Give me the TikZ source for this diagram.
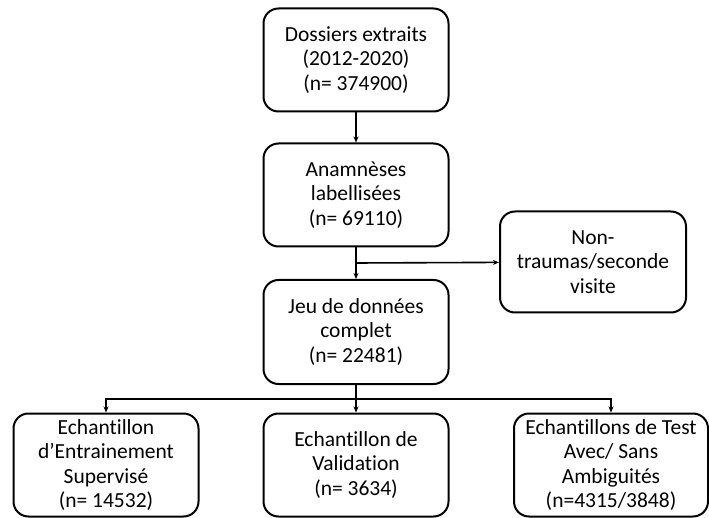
\documentclass[tikz,border=0pt]{standalone}
\usepackage{fontspec}
\setmainfont[Ligatures=NoCommon]{Carlito}
\usetikzlibrary{arrows.meta}
\begin{document}
\begin{tikzpicture}[x=1pt,y=-1pt,
  box/.style={draw=black,line width=2pt,rounded corners=15pt,align=center,
    minimum width=185pt,minimum height=103pt,inner sep=1pt,
    font=\fontsize{21.5}{24.5}\selectfont},
  conn/.style={line width=1.6pt,-{Stealth[length=6pt,width=5pt]}}]
\useasboundingbox (0,0) rectangle (709,518);
\node[box] (b1) at (356,60) {Dossiers extraits\\(2012-2020)\\(n= 374900)};
\node[box] (b2) at (356,195) {Anamnèses\\labellisées\\(n= 69110)};
\node[box,minimum width=186pt,minimum height=101pt] (nt) at (593,262) {Non-\\traumas/seconde\\visite};
\node[box,minimum height=104pt] (b3) at (356,332) {Jeu de données\\complet\\(n= 22481)};
\node[box] (bl) at (106,465) {Echantillon\\d’Entrainement\\Supervisé\\(n= 14532)};
\node[box] (bm) at (356,465) {Echantillon de\\Validation\\(n= 3634)};
\node[box,minimum width=194pt] (br) at (611,465) {Echantillons de Test\\Avec/ Sans\\Ambiguités\\(n=4315/3848)};
\coordinate (s1) at (356,263);
\coordinate (s2) at (356,399);
\draw[conn] (b1) -- (b2);
\draw[conn] (b2) -- (b3);
\draw[conn] (s1) -- (nt);
\draw[conn] (b3) -- (bm);
\draw[conn] (s2) -| (bl);
\draw[conn] (s2) -| (br);
\end{tikzpicture}
\end{document}
